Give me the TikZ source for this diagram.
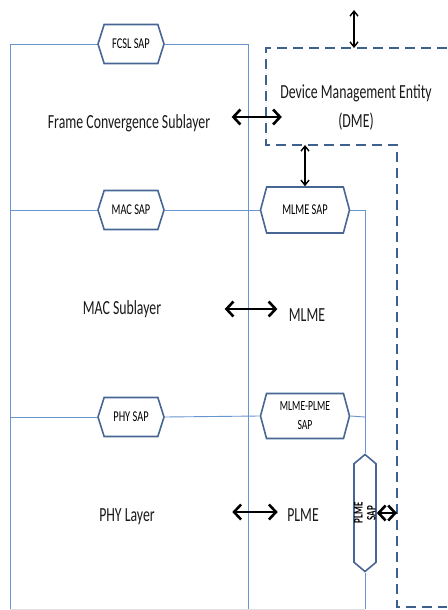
\documentclass[tikz,border=0pt]{standalone}
\usepackage{fontspec}
\setmainfont{Carlito}[FakeStretch=0.69]
\usetikzlibrary{shapes.symbols,arrows.meta}
\definecolor{layerline}{RGB}{104,148,208}
\definecolor{sapedge}{RGB}{72,102,148}
\definecolor{dmeedge}{RGB}{62,96,140}
\tikzset{
    sap/.style={draw=sapedge, line width=1.6pt, fill=white, signal, signal to=east and west,
        signal pointer angle=145, inner sep=0pt, minimum width=66pt, minimum height=39pt,
        font=\fontsize{15}{18}\selectfont},
    layer/.style={draw=layerline, line width=0.9pt},
    dmebox/.style={draw=dmeedge, line width=2.6pt, dash pattern=on 10pt off 6pt},
    bigarrow/.style={line width=2.6pt, {Straight Barb[length=7pt,width=15pt]}-{Straight Barb[length=7pt,width=15pt]}},
    smallarrow/.style={line width=1.4pt, {Straight Barb[length=5pt,width=8pt]}-{Straight Barb[length=5pt,width=8pt]}},
    layertext/.style={font=\fontsize{20}{29}\selectfont, text=black!90}
}
\begin{document}
\begin{tikzpicture}[x=1pt, y=-1pt]
    \useasboundingbox (0,0) rectangle (447,610);
    %   Service access points
    \node[sap] (fcslsap) at (131,44) {FCSL SAP};
    \node[sap] (macsap) at (131,210) {MAC SAP};
    \node[sap] (physap) at (131,417) {PHY SAP};
    \node[sap, minimum width=89pt, minimum height=46pt, signal pointer angle=150] (mlmesap) at (305,210) {MLME SAP};
    \node[sap, minimum width=89pt, minimum height=45pt, signal pointer angle=150, align=center,
        font=\fontsize{14}{19}\selectfont] (mlmeplmesap) at (305,416) {MLME-PLME\\SAP};
    \node[sap, rotate=90, minimum width=117pt, minimum height=22pt, signal pointer angle=100, align=center,
        font=\fontsize{13}{13}\selectfont\bfseries] (plmesap) at (365,513) {PLME\\SAP};

    %   Layer texts
    \node[layertext] (fcs) at (129,123) {Frame Convergence Sublayer};
    \node[layertext, align=center] (dme) at (356,107) {Device Management Entity\\(DME)};
    \node[layertext] (macsub) at (122,309) {MAC Sublayer};
    \node[layertext] (mlme) at (307,315) {MLME};
    \node[layertext] (phy) at (127,517) {PHY Layer};
    \node[layertext] (plme) at (303,515) {PLME};

    %   Layer boundaries
    \draw[layer] (10,609) -- (10,44) -- (fcslsap.west);
    \draw[layer] (fcslsap.east) -- (248,44) -- (248,609);
    \draw[layer] (10,210) -- (macsap.west);
    \draw[layer] (macsap.east) -- (mlmesap.west);
    \draw[layer] (mlmesap.east) -- (365,210) -- (plmesap.east);
    \draw[layer] (plmesap.west) -- (365,609);
    \draw[layer] (10,417) -- (physap.west);
    \draw[layer] (physap.east) -- (mlmeplmesap.west);
    \draw[layer] (mlmeplmesap.east) -- (365,417);
    \draw[draw=black!12, line width=0.9pt] (10,609) -- (365,609);

    %   Device management entity outline
    \coordinate (dmeNW) at (266,48);
    \coordinate (dmeSW) at (266,145);
    \coordinate (dmeport) at (397,513);
    \coordinate (ext) at (354,10);
    \draw[dmebox] (447,48) -- (dmeNW) -- (dmeSW) -- (397,145) -- (397,607) -- (447,607);

    %   Arrows
    \draw[smallarrow] (ext) -- (ext |- dmeNW);
    \draw[smallarrow] (mlmesap.north |- dmeSW) -- (mlmesap.north);
    \draw[bigarrow] ([xshift=18pt,yshift=6pt]fcs.east) -- ([xshift=5pt,yshift=6pt]fcs.east -| dme.west);
    \draw[bigarrow] ([xshift=60pt]macsub.east) -- ([xshift=-8pt]macsub.east -| mlme.west);
    \draw[bigarrow] ([xshift=74pt,yshift=5pt]phy.east) -- ([xshift=-6pt,yshift=5pt]phy.east -| plme.west);
    \draw[bigarrow] (plmesap.south) -- (dmeport);
\end{tikzpicture}
\end{document}
